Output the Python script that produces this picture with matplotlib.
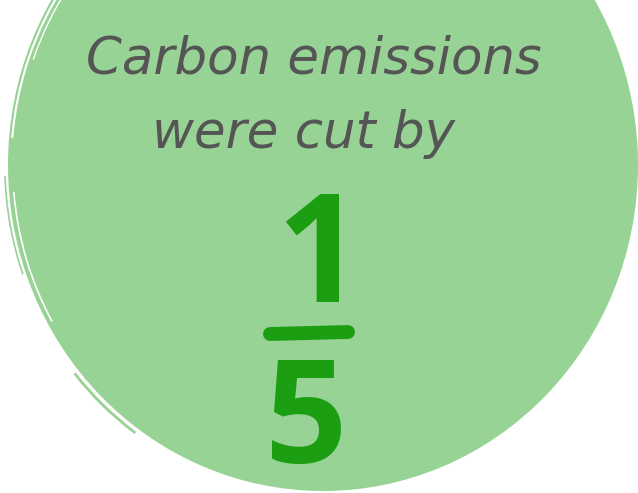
import matplotlib.pyplot as plt
from matplotlib.patches import Ellipse, Arc

# content
headline = ["Carbon emissions", "were cut by"]
numerator = "1"
denominator = "5"

fill_green = "#97d394"
dark_green = "#1c9e12"
grey = "#555555"

plt.rcParams["mathtext.fontset"] = "custom"
plt.rcParams["mathtext.bf"] = "Open Sans:bold"

fig = plt.figure(figsize=(6.38, 4.93), dpi=100)
ax = fig.add_axes([0, 0, 1, 1])
ax.set_xlim(0, 638)
ax.set_ylim(493, 0)
ax.axis("off")

# blob
cx, cy, w, h = 323, 165, 630, 652
ax.add_patch(Ellipse((cx, cy), w, h, fc=fill_green, ec="none"))

# brush texture: white scratches inside the edge, green slivers outside
for scale, t1, t2, lw in [(0.985, 150, 175, 1.2), (0.99, 185, 215, 1.5),
                          (0.975, 200, 230, 1.0), (0.985, 228, 250, 1.5),
                          (0.99, 252, 262, 1.2)]:
    ax.add_patch(Arc((cx, cy), w * scale, h * scale, theta1=t1, theta2=t2,
                     color="white", lw=lw))
for scale, t1, t2, lw in [(1.015, 125, 140, 2.0), (1.01, 160, 178, 1.2),
                          (1.012, 230, 245, 1.0), (1.01, 255, 262, 1.0)]:
    ax.add_patch(Arc((cx, cy), w * scale, h * scale, theta1=t1, theta2=t2,
                     color=fill_green, lw=lw))

# headline
ax.text(314, 73, headline[0], ha="center", va="baseline", fontsize=37,
        color=grey, family="DejaVu Sans", style="italic")
ax.text(304, 148, headline[1], ha="center", va="baseline", fontsize=37,
        color=grey, family="DejaVu Sans", style="italic")

# fraction
ax.text(308, 333, r"$\mathbf{%s}$" % numerator, ha="center", va="bottom",
        fontsize=108, color=dark_green)
ax.plot([270, 348], [334, 332], color=dark_green, lw=10,
        solid_capstyle="round")
ax.text(303, 493, r"$\mathbf{%s}$" % denominator, ha="center",
        va="bottom", fontsize=104, color=dark_green)

fig.savefig("out.png", dpi=100)
